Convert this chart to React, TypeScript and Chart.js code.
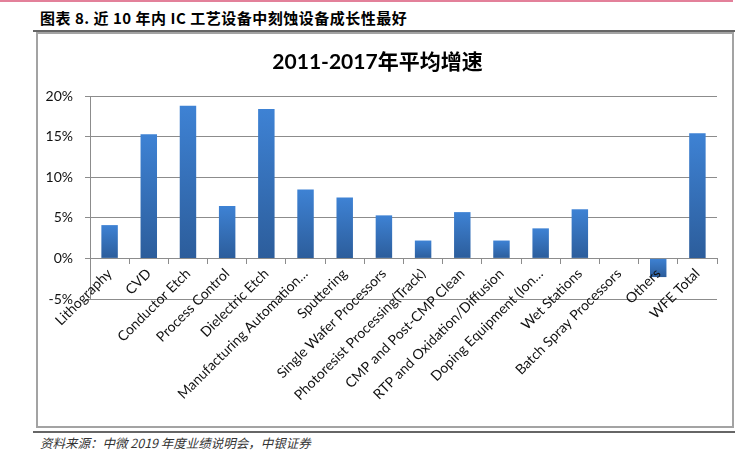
import React, { useEffect, useRef } from "react";
import { Chart, registerables } from "chart.js";

Chart.register(...registerables);

const categories: string[] = [
  "Lithography",
  "CVD",
  "Conductor Etch",
  "Process Control",
  "Dielectric Etch",
  "Manufacturing Automation…",
  "Sputtering",
  "Single Wafer Processors",
  "Photoresist Processing(Track)",
  "CMP and Post-CMP Clean",
  "RTP and Oxidation/Diffusion",
  "Doping Equipment (Ion…",
  "Wet Stations",
  "Batch Spray Processors",
  "Others",
  "WFE Total",
];

const growthRates: number[] = [4.1, 15.3, 18.8, 6.45, 18.4, 8.5, 7.5, 5.3, 2.2, 5.7, 2.2, 3.7, 6.05, 0, -2.3, 15.4];

const yTicks: number[] = [-5, 0, 5, 10, 15, 20];

const headerText = "图表 8. 近 10 年内 IC 工艺设备中刻蚀设备成长性最好";
const chartTitle = "2011-2017年平均增速";
const sourceText = "资料来源：中微 2019 年度业绩说明会，中银证券";

const FONT = "Lato, 'Noto Sans CJK SC', sans-serif";
const GRID = "#8c8c8c";

export default function App() {
  const canvasRef = useRef<HTMLCanvasElement | null>(null);

  useEffect(() => {
    const canvas = canvasRef.current;
    if (!canvas) return;
    const chart = new Chart(canvas, {
      type: "bar",
      data: {
        labels: categories,
        datasets: [
          {
            data: growthRates,
            barPercentage: 0.42,
            categoryPercentage: 1,
            borderWidth: 0,
            backgroundColor: (ctx: any) => {
              const c = ctx.chart;
              const ys = c.scales && c.scales.y;
              const v = ctx.raw;
              if (!ys || typeof v !== "number") return "#3a78c6";
              const top = ys.getPixelForValue(Math.max(v, 0));
              const bot = ys.getPixelForValue(Math.min(v, 0));
              if (!isFinite(top) || !isFinite(bot) || top === bot) return "#3a78c6";
              const g = c.ctx.createLinearGradient(0, top, 0, bot);
              g.addColorStop(0, "#3e82d4");
              g.addColorStop(1, "#2c5d9b");
              return g;
            },
          },
        ],
      },
      options: {
        animation: false,
        responsive: false,
        maintainAspectRatio: false,
        layout: { padding: { left: 0, right: 15, top: 0, bottom: 127 } },
        plugins: {
          legend: { display: false },
          tooltip: { enabled: false },
          title: {
            display: true,
            text: chartTitle,
            color: "#000",
            font: { family: FONT, size: 21, weight: "bold", lineHeight: 1.2 },
            padding: { top: 15.4, bottom: 21.4 },
          },
        },
        scales: {
          x: {
            position: { y: 0 } as any,
            grid: {
              drawOnChartArea: false,
              drawTicks: true,
              tickLength: 5,
              color: GRID,
              offset: true,
            },
            border: { display: true, color: GRID, width: 1 },
            ticks: {
              z: 1,
              autoSkip: false,
              maxRotation: 45,
              minRotation: 45,
              padding: 2,
              color: "#111",
              font: { family: FONT, size: 14 },
            },
            afterFit: (s: any) => {
              s.paddingLeft = 0;
              s.paddingRight = 0;
            },
          },
          y: {
            min: yTicks[0],
            max: yTicks[yTicks.length - 1],
            afterBuildTicks: (s: any) => {
              s.ticks = yTicks.map((v) => ({ value: v }));
            },
            grid: { color: GRID, lineWidth: 1, tickLength: 5 },
            border: { display: true, color: GRID, width: 1 },
            ticks: {
              padding: 12,
              color: "#111",
              font: { family: FONT, size: 14 },
              callback: (v: any) => `${v}%`,
            },
            afterFit: (s: any) => {
              s.width = 52;
              s.paddingTop = 0;
              s.paddingBottom = 0;
            },
          },
        },
      },
    });
    return () => chart.destroy();
  }, []);

  return (
    <div style={{ position: "absolute", left: 0, top: 0, width: 753, height: 454, background: "#fff", overflow: "hidden" }}>
      <div style={{ position: "absolute", left: 0, top: 0, width: 733, height: 2, background: "#e3809a" }} />
      <div
        style={{
          position: "absolute",
          left: 40,
          top: 7,
          height: 22,
          lineHeight: "22px",
          fontFamily: "'Noto Sans CJK SC', Arial, sans-serif",
          fontWeight: 700,
          fontSize: 15,
          letterSpacing: "0.5px",
          color: "#000",
          whiteSpace: "nowrap",
        }}
      >
        {headerText}
      </div>
      <div style={{ position: "absolute", left: 33, top: 30, width: 702, height: 2, background: "#666" }} />
      <div
        style={{
          position: "absolute",
          left: 36,
          top: 32,
          width: 698,
          height: 396,
          boxSizing: "border-box",
          border: "2px solid #a3a3a3",
        }}
      />
      <canvas
        ref={canvasRef}
        width={694}
        height={392}
        style={{ position: "absolute", left: 38, top: 34, width: 694, height: 392 }}
      />
      <div style={{ position: "absolute", left: 33, top: 431, width: 702, height: 2, background: "#666" }} />
      <div
        style={{
          position: "absolute",
          left: 40,
          top: 434,
          height: 18,
          lineHeight: "18px",
          fontFamily: "'Noto Sans CJK SC', Arial, sans-serif",
          fontStyle: "italic",
          fontSize: 12.5,
          color: "#333",
          whiteSpace: "nowrap",
        }}
      >
        {sourceText}
      </div>
    </div>
  );
}
